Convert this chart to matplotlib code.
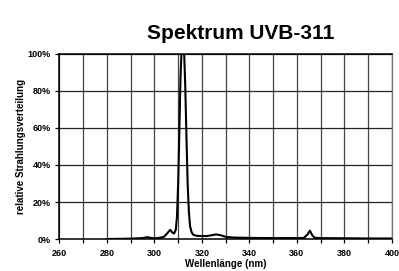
import matplotlib
matplotlib.use("Agg")
import matplotlib.pyplot as plt
from matplotlib.ticker import FuncFormatter, MultipleLocator

plt.rcParams["font.family"] = ["Liberation Sans", "DejaVu Sans"]

# ── data ─────────────────────────────────────────────────────────────────────
wavelength = [280, 290, 295, 297, 298.5, 300, 302, 304, 305, 306, 306.7, 307.5,
              308.3, 309.0, 309.5, 310.0, 310.5, 311.0, 311.5, 312.0, 312.5,
              313.0, 313.5, 314.0, 314.5, 315.0, 315.7, 316.5, 318, 322, 324,
              326, 328, 330, 333, 340, 350, 360, 363, 364.5, 365.5, 366.5,
              367.5, 370, 380, 390, 400]
intensity = [0.0, 0.2, 0.5, 1.0, 0.6, 0.4, 0.6, 1.2, 2.5, 4.0, 5.0, 3.5,
             3.0, 5.0, 12.0, 30.0, 58.0, 88.0, 104.0, 106.0, 102.0,
             82.0, 55.0, 30.0, 15.0, 7.0, 3.5, 2.2, 1.7, 1.6, 2.0,
             2.5, 2.0, 1.2, 0.8, 0.6, 0.5, 0.5, 0.6, 2.5, 4.5, 2.0,
             0.7, 0.5, 0.4, 0.3, 0.3]

title = "Spektrum UVB-311"
xlabel = "Wellenlänge (nm)"
ylabel = "relative Strahlungsverteilung"

# ── figure ───────────────────────────────────────────────────────────────────
fig = plt.figure(figsize=(3.99, 2.71), dpi=100)
ax = fig.add_axes([0.149, 0.118, 0.833, 0.683])

ax.plot(wavelength, intensity, color="black", lw=1.5, zorder=3)

ax.set_xlim(260, 400)
ax.set_ylim(0, 100)
ax.xaxis.set_major_locator(MultipleLocator(20))
ax.xaxis.set_minor_locator(MultipleLocator(10))
ax.yaxis.set_major_locator(MultipleLocator(20))
ax.yaxis.set_major_formatter(FuncFormatter(lambda v, p: f"{v:.0f}%"))

ax.grid(True, which="both", axis="x", color="#444444", lw=0.9)
ax.grid(True, which="major", axis="y", color="#222222", lw=0.9)
ax.set_axisbelow(True)

for s in ["left", "bottom", "top"]:
    ax.spines[s].set_color("black")
    ax.spines[s].set_linewidth(1.1)
ax.spines["right"].set_color("#777777")
ax.spines["right"].set_linewidth(1.0)

ax.tick_params(which="both", direction="out", length=3, width=0.9,
               color="black", pad=4, labelsize=6.5)
for lab in ax.get_xticklabels() + ax.get_yticklabels():
    lab.set_fontweight("bold")
ax.tick_params(axis="y", pad=3)

ax.set_xlabel(xlabel, fontsize=7, fontweight="bold", labelpad=1)
ax.set_ylabel(ylabel, fontsize=7, fontweight="bold", labelpad=1)

fig.text(0.604, 0.878, title, ha="center", va="center",
         fontsize=15, fontweight="bold")

fig.savefig("out.png", dpi=100)
